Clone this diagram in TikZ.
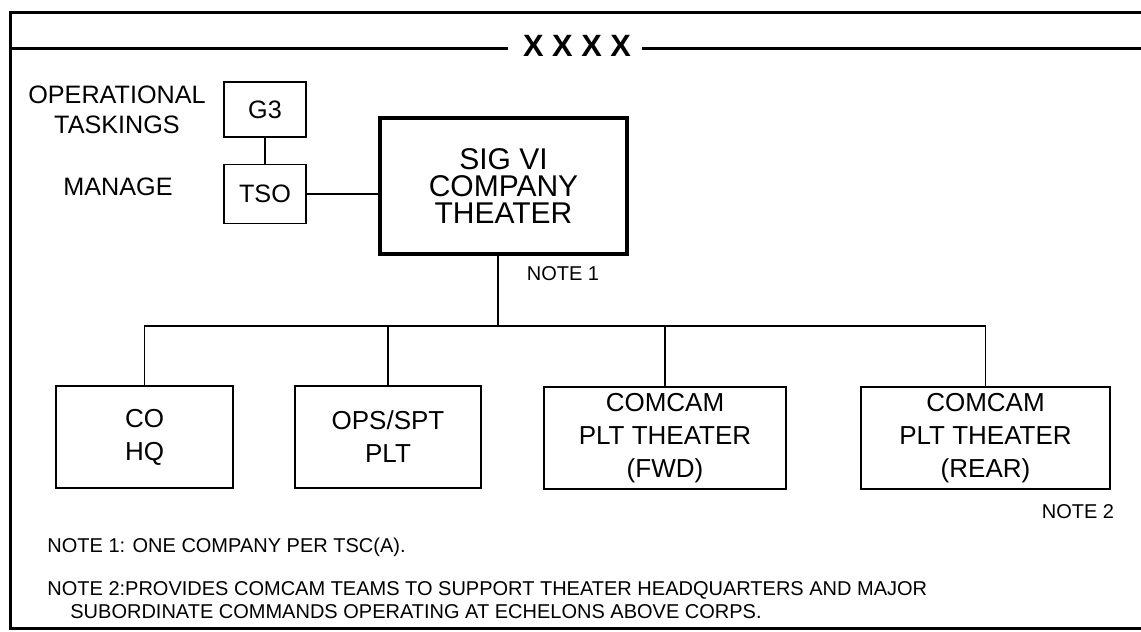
\documentclass[tikz,border=0pt]{standalone}
\usepackage{fontspec}
\setmainfont{Liberation Sans}
\usepackage{tikz}
\usetikzlibrary{positioning}
\newcommand{\sidefont}{\fontsize{12.6}{15}\selectfont}
\newcommand{\sigfont}{\fontsize{15}{13.6}\selectfont}
\newcommand{\cellfont}{\fontsize{13}{16.5}\selectfont}
\newcommand{\notefont}{\fontsize{10}{11.5}\selectfont}
\tikzset{
  frame/.style={line width=1.5pt},
  link/.style={line width=0.8pt},
  box/.style={draw,line width=0.8pt,align=center,inner sep=2pt,font=\cellfont},
  sigbox/.style={draw,line width=1.8pt,align=center,inner sep=2pt,font=\sigfont},
  lbl/.style={align=center,inner sep=0pt,font=\sidefont},
  note/.style={align=left,inner sep=0pt,anchor=west,font=\notefont}
}
\begin{document}
\begin{tikzpicture}[x=0.5pt,y=-0.5pt]
\useasboundingbox (0,0) rectangle (1141,632);
% outer frame and title bar
\draw[frame] (1141,12.5) -- (10.5,12.5) -- (10.5,628) -- (1141,628);
\node[inner sep=0pt,font=\fontsize{15.4}{16}\selectfont\bfseries] (title) at (577,46) {X X X X};
\draw[frame] (10.5,48) -- (508,48);
\draw[frame] (642,48) -- (1141,48);
% staff side
\node[box,font=\sidefont,minimum width=41pt,minimum height=27.5pt] (g3) at (265,109.5) {G3};
\node[box,font=\sidefont,minimum width=41pt,minimum height=29.5pt,below=13pt of g3] (tso) {TSO};
\node[lbl] (optask) at (117,110) {OPERATIONAL\\TASKINGS};
\node[lbl] (manage) at (118,187) {MANAGE};
% company
\node[sigbox,minimum width=123.5pt,minimum height=68pt] (sig) at (503.5,186) {SIG VI\\COMPANY\\THEATER};
\node[inner sep=0pt,font=\fontsize{10}{12}\selectfont] (note1lbl) at (563,274) {NOTE 1};
% platoons
\node[box,minimum width=88.5pt,minimum height=51pt] (cohq) at (144.5,437) {CO\\HQ};
\node[box,minimum width=93pt,minimum height=51pt] (ops) at (388,437) {OPS/SPT\\PLT};
\node[box,minimum width=121pt,minimum height=51pt] (fwd) at (665,438) {COMCAM\\PLT THEATER\\(FWD)};
\node[box,minimum width=124.5pt,minimum height=51pt] (rear) at (985.5,438) {COMCAM\\PLT THEATER\\(REAR)};
\node[inner sep=0pt,font=\fontsize{10}{12}\selectfont] (note2lbl) at (1078,512) {NOTE 2};
\coordinate (bus) at (498,326);
% connectors
\draw[link] (g3) -- (tso);
\draw[link] (tso.east) -- (tso.east -| sig.west);
\draw[link] (bus) -- (bus |- sig.south);
\draw[link] (cohq.north) -- (cohq.north |- bus) -- (rear.north |- bus) -- (rear.north);
\draw[link] (ops.north) -- (ops.north |- bus);
\draw[link] (fwd.north) -- (fwd.north |- bus);
% notes
\node[note] (note1) at (47,547) {NOTE 1: ONE COMPANY PER TSC(A).};
\node[note] (note2) at (47,600) {NOTE 2:PROVIDES COMCAM TEAMS TO SUPPORT THEATER HEADQUARTERS AND MAJOR\\\hspace*{11.5pt}SUBORDINATE COMMANDS OPERATING AT ECHELONS ABOVE CORPS.};
\end{tikzpicture}
\end{document}
